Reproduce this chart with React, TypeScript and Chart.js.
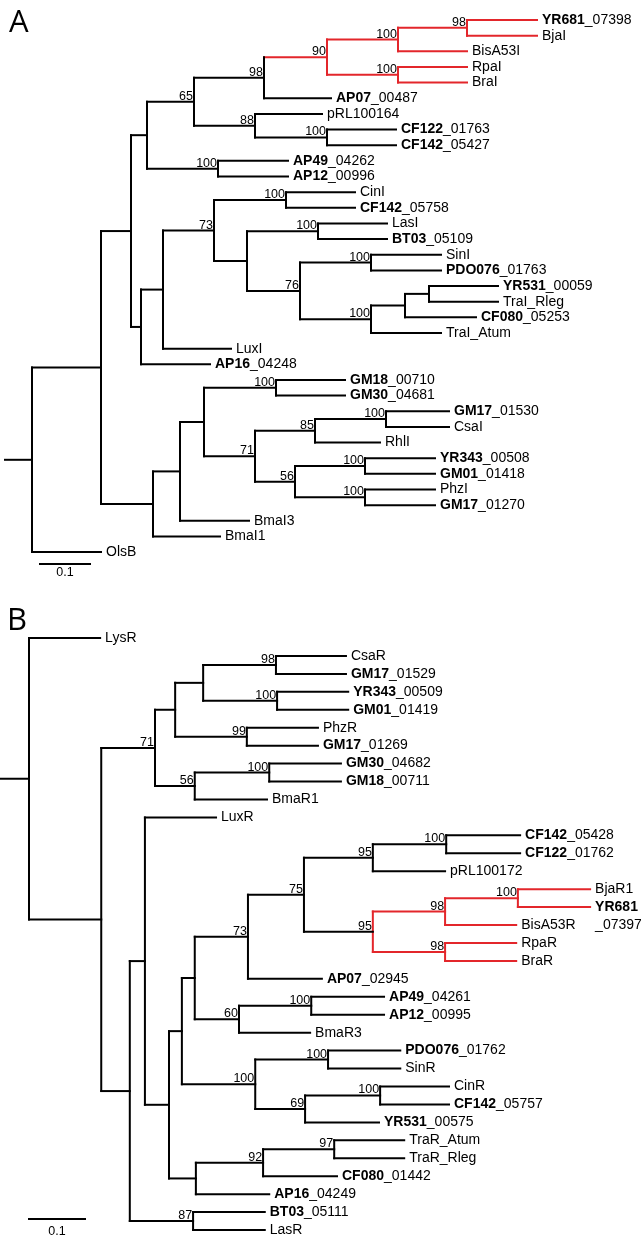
import React, { useEffect, useRef } from "react";
import { Chart, registerables } from "chart.js";

Chart.register(...registerables);

type Kid = number | string;

const FONT = "'Liberation Sans', Arial, Helvetica, sans-serif";
const PANEL_FONT = "'Open Sans', 'Liberation Sans', sans-serif";
const BLACK = "#000000";
const RED = "#e3262b";

// ---------------- Tree A (LuxI-type synthases) ----------------
const leafNamesA = [
  "*YR681_07398", "BjaI", "BisA53I", "RpaI", "BraI", "*AP07_00487", "pRL100164",
  "*CF122_01763", "*CF142_05427", "*AP49_04262", "*AP12_00996", "CinI", "*CF142_05758",
  "LasI", "*BT03_05109", "SinI", "*PDO076_01763", "*YR531_00059", "TraI_Rleg",
  "*CF080_05253", "TraI_Atum", "LuxI", "*AP16_04248", "*GM18_00710", "*GM30_04681",
  "*GM17_01530", "CsaI", "RhlI", "*YR343_00508", "*GM01_01418", "PhzI", "*GM17_01270",
  "BmaI3", "BmaI1", "OlsB",
];
const leafTipA = [
  1.01, 1.01, 0.87, 0.87, 0.87, 0.598, 0.58, 0.728, 0.728, 0.512, 0.512, 0.646, 0.646,
  0.71, 0.71, 0.818, 0.818, 0.932, 0.932, 0.888, 0.818, 0.398, 0.356, 0.626, 0.626,
  0.834, 0.834, 0.696, 0.806, 0.806, 0.806, 0.806, 0.434, 0.376, 0.138,
];
const nodeXA = [
  0, 0.138, 0.198, 0.23, 0.324, 0.464, 0.59, 0.732, 0.732, 0.446, 0.372, 0.218, 0.262,
  0.364, 0.508, 0.43, 0.572, 0.536, 0.678, 0.678, 0.242, 0.296, 0.344, 0.488, 0.446,
  0.566, 0.708, 0.526, 0.666, 0.666, 0.87, 0.59, 0.746, 0.794,
];
const nodeKidsA: Kid[][] = [
  ["n1", 34], ["n2", "n20"], ["n3", "n11"], ["n4", "n10"], ["n5", "n9"], ["n6", 5],
  ["n7", "n8"], ["n30", 2], [3, 4], [6, "n31"], [9, 10], ["n12", 22], ["n13", 21],
  ["n14", "n15"], [11, 12], ["n16", "n17"], [13, 14], ["n18", "n19"], [15, 16],
  ["n32", 20], ["n21", 33], ["n22", 32], ["n23", "n24"], [23, 24], ["n25", "n27"],
  ["n26", 27], [25, 26], ["n28", "n29"], [28, 29], [30, 31], [0, 1], [7, 8],
  ["n33", 19], [17, 18],
];
const nodeBootA = [
  "", "", "", "", "65", "98", "90", "100", "100", "88", "100", "", "", "73", "100", "",
  "100", "76", "100", "100", "", "", "", "100", "71", "85", "100", "56", "100", "100",
  "98", "100", "", "",
];

// ---------------- Tree B (LuxR-type receptors) ----------------
const leafNamesB = [
  "LysR", "CsaR", "*GM17_01529", "*YR343_00509", "*GM01_01419", "PhzR", "*GM17_01269",
  "*GM30_04682", "*GM18_00711", "BmaR1", "LuxR", "*CF142_05428", "*CF122_01762",
  "pRL100172", "BjaR1", "*YR681\n_07397", "BisA53R", "RpaR", "BraR", "*AP07_02945",
  "*AP49_04261", "*AP12_00995", "BmaR3", "*PDO076_01762", "SinR", "CinR",
  "*CF142_05757", "*YR531_00575", "TraR_Atum", "TraR_Rleg", "*CF080_01442",
  "*AP16_04249", "*BT03_05111", "LasR",
];
const leafTipB = [
  0.127, 0.566, 0.566, 0.57, 0.57, 0.516, 0.516, 0.557, 0.557, 0.425, 0.334, 0.877,
  0.877, 0.743, 1.002, 1.002, 0.87, 0.87, 0.87, 0.523, 0.634, 0.634, 0.502, 0.663,
  0.663, 0.75, 0.75, 0.625, 0.67, 0.67, 0.55, 0.429, 0.421, 0.421,
];
const nodeXB = [
  0, 0.129, 0.225, 0.261, 0.311, 0.441, 0.443, 0.389, 0.296, 0.429, 0.18, 0.207, 0.25,
  0.273, 0.296, 0.391, 0.491, 0.614, 0.614, 0.743, 0.743, 0.375, 0.404, 0.534, 0.493,
  0.627, 0.298, 0.418, 0.545, 0.293, 0.745, 0.873, 0.504,
];
const nodeKidsB: Kid[][] = [
  [0, "n1"], ["n2", "n10"], ["n3", "n8"], ["n4", "n7"], ["n5", "n6"], [1, 2], [3, 4],
  [5, 6], ["n9", 9], [7, 8], ["n11", "n29"], [10, "n12"], ["n13", "n26"], ["n14", "n22"],
  ["n15", "n21"], ["n16", 19], ["n17", "n18"], ["n30", 13], ["n19", "n20"], ["n31", 16],
  [17, 18], ["n32", 22], ["n23", "n24"], [23, 24], ["n25", 27], [25, 26], ["n27", 31],
  ["n28", 30], [28, 29], [32, 33], [11, 12], [14, 15], [20, 21],
];
const nodeBootB = [
  "", "", "71", "", "", "98", "100", "99", "56", "100", "", "", "", "", "", "73", "75",
  "95", "95", "98", "98", "60", "100", "100", "69", "100", "", "92", "97", "87", "100",
  "100", "100",
];

// clade highlighted in red (internal node index), and whether its stem is red
const redCladeA = 6;
const redStemA = true;
const redCladeB = 18;
const redStemB = false;

const rootStemA = 0.054;
const rootStemB = 0.052;
const scaleBarLength = 0.1;
const scaleBarLabel = "0.1";

interface PanelProps {
  letter: string;
  names: string[];
  tips: number[];
  nodeX: number[];
  kids: Kid[][];
  boot: string[];
  redClade: number;
  redStem: boolean;
  rootStem: number;
  height: number;
  xMin: number;
  xMax: number;
  yMin: number;
  yMax: number;
  barX: number;
  barY: number;
  barTextDy: number;
  letterX: number;
  letterY: number;
}

function TreePanel(p: PanelProps) {
  const ref = useRef<HTMLCanvasElement>(null);

  useEffect(() => {
    const nodeY: number[] = [];
    const idx = (c: Kid) => Number(String(c).slice(1));
    const yOf = (c: Kid): number => (typeof c === "number" ? c : getNodeY(idx(c)));
    const xOf = (c: Kid): number => (typeof c === "number" ? p.tips[c] : p.nodeX[idx(c)]);
    function getNodeY(k: number): number {
      if (nodeY[k] === undefined) {
        const ks = p.kids[k];
        nodeY[k] = (yOf(ks[0]) + yOf(ks[ks.length - 1])) / 2;
      }
      return nodeY[k];
    }
    p.nodeX.forEach((_, k) => getNodeY(k));

    const redSet = new Set<number>();
    const collect = (k: number) => {
      redSet.add(k);
      p.kids[k].forEach((c) => {
        if (typeof c !== "number") collect(idx(c));
      });
    };
    collect(p.redClade);

    type Seg = { pts: { x: number; y: number }[]; red: boolean };
    const segs: Seg[] = [];
    p.nodeX.forEach((nx, k) => {
      const ks = p.kids[k];
      const red = redSet.has(k);
      segs.push({ pts: [{ x: nx, y: yOf(ks[0]) }, { x: nx, y: yOf(ks[ks.length - 1]) }], red });
      ks.forEach((c) => {
        const stemRed = p.redStem && typeof c !== "number" && idx(c) === p.redClade;
        segs.push({ pts: [{ x: nx, y: yOf(c) }, { x: xOf(c), y: yOf(c) }], red: red || stemRed });
      });
    });
    // root stem
    segs.push({ pts: [{ x: -p.rootStem, y: getNodeY(0) }, { x: 0, y: getNodeY(0) }], red: false });
    // scale bar
    segs.push({ pts: [{ x: p.barX, y: p.barY }, { x: p.barX + scaleBarLength, y: p.barY }], red: false });

    segs.sort((a, b) => Number(a.red) - Number(b.red));

    const datasets = segs.map((s) => ({
      data: s.pts,
      showLine: true,
      borderColor: s.red ? RED : BLACK,
      backgroundColor: s.red ? RED : BLACK,
      borderWidth: 2,
      borderCapStyle: "square" as const,
      pointRadius: 0,
      pointHoverRadius: 0,
      fill: false,
    }));

    const labelPlugin = {
      id: "treeLabels",
      afterDatasetsDraw(chart: any) {
        const { ctx, scales } = chart;
        const xs = scales.x;
        const ys = scales.y;
        ctx.save();
        ctx.fillStyle = "#000";
        // leaf labels
        const rowH = Math.abs(ys.getPixelForValue(1) - ys.getPixelForValue(0));
        p.names.forEach((name, i) => {
          const px = xs.getPixelForValue(p.tips[i]) + 5;
          const py = ys.getPixelForValue(i);
          const bold = name.startsWith("*");
          const lines = (bold ? name.slice(1) : name).split("\n");
          lines.forEach((line, li) => {
            const ly = py + li * rowH;
            ctx.textBaseline = "middle";
            ctx.textAlign = "left";
            let x = px;
            let boldPart = "";
            let rest = line;
            if (bold && li === 0) {
              const u = line.indexOf("_");
              boldPart = u >= 0 ? line.slice(0, u) : line;
              rest = u >= 0 ? line.slice(u) : "";
            }
            if (boldPart) {
              ctx.font = `bold 14px ${FONT}`;
              ctx.fillText(boldPart, x, ly);
              x += ctx.measureText(boldPart).width;
            }
            if (rest) {
              ctx.font = `14px ${FONT}`;
              ctx.fillText(rest, x, ly);
            }
          });
        });
        // bootstrap values
        ctx.font = `12.5px ${FONT}`;
        ctx.textAlign = "right";
        ctx.textBaseline = "alphabetic";
        p.boot.forEach((b, k) => {
          if (!b) return;
          const px = xs.getPixelForValue(p.nodeX[k]) - 1;
          const py = ys.getPixelForValue(nodeY[k]) - 2;
          ctx.fillText(b, px, py);
        });
        // scale bar label
        ctx.textAlign = "center";
        ctx.textBaseline = "middle";
        ctx.font = `12.5px ${FONT}`;
        ctx.fillText(
          scaleBarLabel,
          xs.getPixelForValue(p.barX + scaleBarLength / 2),
          ys.getPixelForValue(p.barY) + p.barTextDy
        );
        // panel letter
        ctx.font = `31px ${PANEL_FONT}`;
        ctx.textAlign = "left";
        ctx.textBaseline = "alphabetic";
        ctx.fillText(p.letter, p.letterX, p.letterY);
        ctx.restore();
      },
    };

    const chart = new Chart(ref.current as HTMLCanvasElement, {
      type: "scatter",
      data: { datasets },
      options: {
        animation: false,
        responsive: false,
        maintainAspectRatio: false,
        devicePixelRatio: 1,
        layout: { padding: 0 },
        events: [],
        plugins: { legend: { display: false }, tooltip: { enabled: false } },
        scales: {
          x: { type: "linear", display: false, min: p.xMin, max: p.xMax },
          y: { type: "linear", display: false, reverse: true, min: p.yMin, max: p.yMax },
        },
      },
      plugins: [labelPlugin],
    } as any);
    return () => chart.destroy();
  }, []);

  return (
    <canvas
      ref={ref}
      width={641}
      height={p.height}
      style={{ display: "block", width: 641, height: p.height }}
    />
  );
}

export default function App() {
  const rowA = 15.65;
  const rowB = 17.94;
  return (
    <div style={{ position: "absolute", left: 0, top: 0, width: 641, height: 1239, background: "#fff" }}>
      <TreePanel
        letter="A"
        names={leafNamesA}
        tips={leafTipA}
        nodeX={nodeXA}
        kids={nodeKidsA}
        boot={nodeBootA}
        redClade={redCladeA}
        redStem={redStemA}
        rootStem={rootStemA}
        height={600}
        xMin={-32 / 500}
        xMax={(641 - 32) / 500}
        yMin={-20 / rowA}
        yMax={(600 - 20) / rowA}
        barX={0.016}
        barY={(564 - 20) / rowA}
        barTextDy={9}
        letterX={9}
        letterY={32}
      />
      <TreePanel
        letter="B"
        names={leafNamesB}
        tips={leafTipB}
        nodeX={nodeXB}
        kids={nodeKidsB}
        boot={nodeBootB}
        redClade={redCladeB}
        redStem={redStemB}
        rootStem={rootStemB}
        height={639}
        xMin={-29 / 560}
        xMax={(641 - 29) / 560}
        yMin={-38 / rowB}
        yMax={(639 - 38) / rowB}
        barX={0}
        barY={(619 - 38) / rowB}
        barTextDy={13}
        letterX={7}
        letterY={30}
      />
    </div>
  );
}
